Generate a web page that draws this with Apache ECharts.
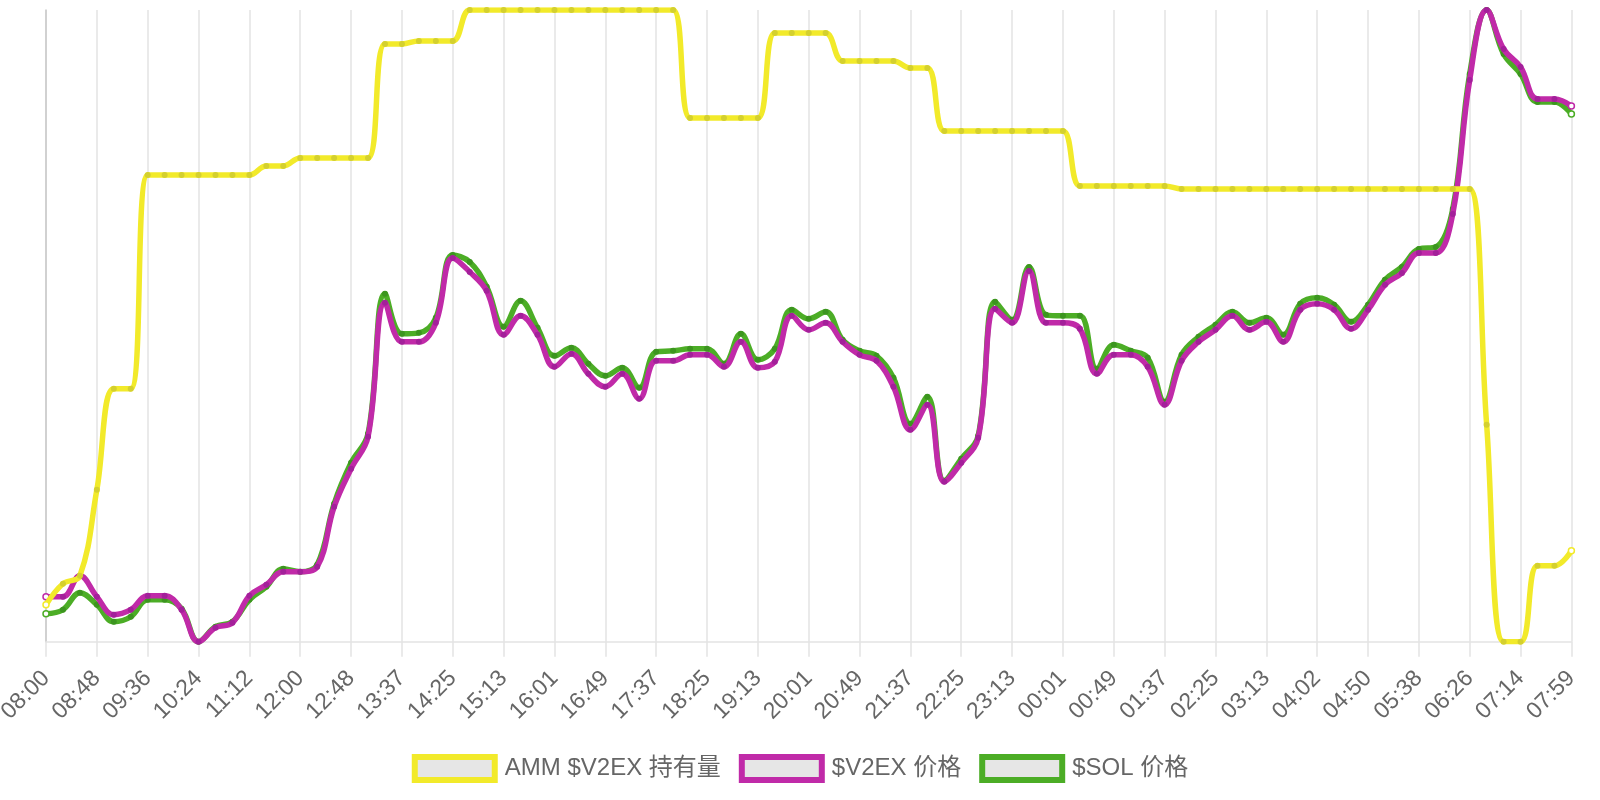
<!DOCTYPE html>
<html><head><meta charset="utf-8">
<script src="https://cdn.jsdelivr.net/npm/echarts@6/dist/echarts.min.js"></script>
<style>html,body{margin:0;padding:0;background:#fff}#c{width:1600px;height:800px}</style>
</head><body><div id="c"></div>
<script>
const categories = ['08:00','08:16','08:32','08:48','09:04','09:20','09:36','09:52','10:08','10:24','10:40','10:56','11:12','11:28','11:44','12:00','12:16','12:32','12:48','13:04','13:20','13:37','13:53','14:09','14:25','14:41','14:57','15:13','15:29','15:45','16:01','16:17','16:33','16:49','17:05','17:21','17:37','17:53','18:09','18:25','18:41','18:57','19:13','19:29','19:45','20:01','20:17','20:33','20:49','21:05','21:21','21:37','21:53','22:09','22:25','22:41','22:57','23:13','23:29','23:45','00:01','00:17','00:33','00:49','01:05','01:21','01:37','01:53','02:09','02:25','02:41','02:57','03:13','03:29','03:45','04:02','04:18','04:34','04:50','05:06','05:22','05:38','05:54','06:10','06:26','06:42','06:58','07:14','07:29','07:44','07:59'];

// relative levels (each series on its own hidden scale)
const ammHolding = [37,58,66,152,253,253,467,467,467,467,467,467,467,476,476,484,484,484,484,484,598,598,601,601,601,632,632,632,632,632,632,632,632,632,632,632,632,632,524,524,524,524,524,609,609,609,609,581,581,581,581,574,574,511,511,511,511,511,511,511,511,456,456,456,456,456,456,453,453,453,453,453,453,453,453,453,453,453,453,453,453,453,453,453,453,217,0,0,76,76,91];
const v2exPrice = [45,45,66,45,27,32,46,46,32,0,14,19,46,57,70,70,75,135,173,205,339,300,300,319,384,370,351,307,326,307,275,288,268,255,268,243,281,281,287,287,275,300,274,280,326,312,319,300,287,281,255,212,237,160,179,204,333,319,371,319,319,313,268,287,287,275,237,281,300,312,326,312,320,300,332,338,332,313,332,357,369,389,389,428,562,632,593,575,543,543,536];
const solPrice = [28,32,49,37,20,25,42,42,33,0,15,20,42,55,73,70,77,138,179,208,348,308,309,324,387,380,355,315,341,314,286,294,278,266,274,254,290,291,293,293,278,308,282,293,332,323,330,302,291,286,264,218,245,161,183,206,340,322,375,327,326,326,273,297,291,284,240,287,305,317,330,319,324,307,338,344,337,320,337,362,375,393,395,433,568,632,588,568,540,540,528];

const seriesNames = ['AMM $V2EX 持有量', '$V2EX 价格', '$SOL 价格'];
const lineColors = ['#f2ea2a', '#c02aa8', '#4cad26'];
const dotColors = ['#d4d02e', '#a3209a', '#3c951f'];
const FONT = "'Liberation Sans', Arial, 'Noto Sans CJK SC', sans-serif";
const GRID = '#e3e3e3';

function mkData(arr, color) {
  return arr.map((v, i) => (i === 0 || i === arr.length - 1)
    ? { value: v, itemStyle: { color: '#fff', borderColor: color, borderWidth: 1.5 } }
    : v);
}
function mkSeries(idx, arr, z) {
  return {
    name: seriesNames[idx], type: 'line', yAxisIndex: idx, z: z,
    data: mkData(arr, lineColors[idx]),
    smooth: 0.4, symbol: 'circle', symbolSize: 6, showAllSymbol: true,
    lineStyle: { width: 5.5, color: lineColors[idx] },
    itemStyle: { color: dotColors[idx] },
    emphasis: { disabled: true }
  };
}

const chart = echarts.init(document.getElementById('c'), null, { renderer: 'canvas' });
const hiddenY = { type: 'value', min: 0, max: 632, show: false };
chart.setOption({
  animation: false,
  backgroundColor: '#fff',
  grid: { left: 46, right: 28.6, top: 10, bottom: 158.3, containLabel: false, outerBoundsMode: 'none' },
  legend: {
    top: 749, left: 'center',
    icon: 'rect', itemWidth: 80, itemHeight: 23, itemGap: 18,
    textStyle: { color: '#666', fontSize: 24, fontFamily: FONT, padding: [0, 0, 0, 5] },
    data: seriesNames.map((n, i) => ({
      name: n,
      itemStyle: { color: '#e6e6e6', borderColor: lineColors[i], borderWidth: 6 }
    }))
  },
  xAxis: {
    type: 'category', data: categories, boundaryGap: false,
    axisLine: { show: true, lineStyle: { color: GRID, width: 1.5 } },
    axisTick: { show: true, interval: 2, length: 15, lineStyle: { color: GRID, width: 1.5 } },
    splitLine: { show: true, interval: 2, lineStyle: { color: GRID, width: 1.5 } },
    axisLabel: { interval: 2, rotate: 45, margin: 33, color: '#666', fontSize: 23, fontFamily: FONT }
  },
  yAxis: [
    { type: 'value', min: 0, max: 632, axisLine: { show: true, lineStyle: { color: '#c8c8c8', width: 1.5 } },
      axisTick: { show: false }, axisLabel: { show: false }, splitLine: { show: false } },
    hiddenY, hiddenY
  ],
  series: [
    mkSeries(2, solPrice, 2),
    mkSeries(1, v2exPrice, 3),
    mkSeries(0, ammHolding, 4)
  ]
});
</script>
</body></html>
